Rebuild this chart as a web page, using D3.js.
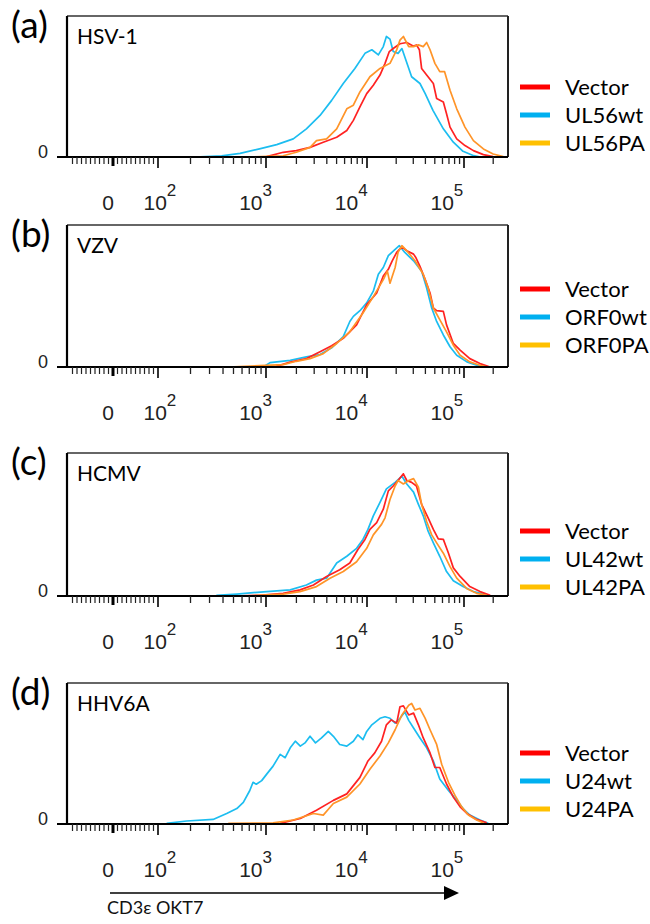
<!DOCTYPE html>
<html lang="en">
<head>
<meta charset="utf-8">
<script src="https://cdn.jsdelivr.net/npm/d3@7"></script>
<style>
  body { margin: 0; background: #fff; }
</style>
</head>
<body>
<div id="chart"></div>
<script>
// labels
var panelLetters = ["(a)", "(b)", "(c)", "(d)"];
var virusNames = ["HSV-1", "VZV", "HCMV", "HHV6A"];
var legendNames = [
  ["Vector", "UL56wt", "UL56PA"],
  ["Vector", "ORF0wt", "ORF0PA"],
  ["Vector", "UL42wt", "UL42PA"],
  ["Vector", "U24wt", "U24PA"]
];
var decadeTicks = [2, 3, 4, 5];
var decadeLabels = ["2", "3", "4", "5"];
var axisTitle = "CD3\u03b5 OKT7";

// histograms: [log10 fluorescence, % of mode]
var hsvVector = [[2.69,0],[3.007,0.3],[3.17,3.9],[3.30,5.3],[3.436,8],[3.567,12.3],[3.70,16.4],[3.80,22],[3.865,30.4],[3.93,41.5],[3.997,52.6],[4.065,59.6],[4.134,68],[4.186,77.7],[4.23,87.5],[4.27,90],[4.34,94],[4.41,95],[4.48,92],[4.51,93],[4.54,89],[4.563,73.5],[4.615,68],[4.684,61],[4.718,48.5],[4.787,45.7],[4.82,35.9],[4.856,24.8],[4.925,15],[5.01,9.5],[5.097,5.3],[5.2,2],[5.3,0.3]];
var hsvWt = [[2.34,0],[2.59,1],[2.76,3],[2.94,6.7],[3.106,10.3],[3.27,15],[3.40,23.4],[3.535,34.5],[3.65,47],[3.765,61],[3.88,73.5],[3.98,86],[4.05,89],[4.117,84.7],[4.168,91.6],[4.20,100],[4.237,97.8],[4.27,87.5],[4.32,86],[4.36,90],[4.39,83],[4.46,66.6],[4.546,61],[4.6,52.6],[4.68,38.7],[4.787,23.4],[4.89,12.3],[4.99,4.7],[5.10,1.1],[5.17,0]];
var hsvPA = [[2.88,0],[3.17,1],[3.30,3.9],[3.436,8],[3.50,13.6],[3.60,15],[3.70,23.4],[3.80,40],[3.865,43],[3.93,54],[4.03,66.6],[4.134,73.5],[4.237,77.7],[4.306,88.9],[4.34,97],[4.375,100],[4.43,91.6],[4.48,91.6],[4.53,93],[4.58,91.6],[4.615,95],[4.65,89],[4.70,77.7],[4.75,70.8],[4.80,70.8],[4.856,55.4],[4.925,40],[5.01,24.8],[5.097,13.6],[5.2,6.7],[5.30,2.5],[5.405,0.3]];

var vzvVector = [[2.94,0],[3.10,0.5],[3.24,4],[3.40,6.9],[3.535,12.5],[3.65,17.5],[3.765,23.6],[3.897,34.7],[3.997,51.4],[4.10,61],[4.168,75],[4.22,80.5],[4.26,87.5],[4.306,94.4],[4.36,99],[4.41,95.8],[4.48,93],[4.505,90],[4.546,83],[4.6,72],[4.65,61],[4.684,48.6],[4.718,46.4],[4.787,45.8],[4.82,34.7],[4.89,19.4],[4.96,13.9],[5.06,6.9],[5.165,2.8],[5.27,0]];
var vzvWt = [[2.975,0],[3.04,3.6],[3.24,5.5],[3.40,8.3],[3.535,10.3],[3.65,15.8],[3.765,25],[3.83,37.5],[3.865,41.7],[3.93,46.4],[3.997,52.8],[4.065,62.5],[4.117,76.4],[4.168,82],[4.22,91.7],[4.29,97],[4.333,100],[4.39,94.4],[4.48,87.5],[4.563,79],[4.615,65],[4.667,48.6],[4.718,37.5],[4.787,26.4],[4.856,16.7],[4.925,9.7],[5.03,4.2],[5.13,1.4],[5.27,0]];
var vzvPA = [[2.65,0],[3.17,1.9],[3.30,4.7],[3.436,6.9],[3.567,11],[3.70,19.4],[3.83,29],[3.96,44.4],[4.065,58],[4.168,72],[4.21,79],[4.237,69],[4.29,82],[4.32,94.4],[4.36,100],[4.41,95.8],[4.495,87.5],[4.58,76.4],[4.63,65],[4.684,48.6],[4.75,39],[4.82,29],[4.89,18],[4.96,9.7],[5.06,4.2],[5.165,1.4],[5.235,0]];

var hcmvVector = [[2.71,0],[2.94,0.6],[3.17,2.2],[3.337,5],[3.47,9],[3.60,16],[3.73,21.5],[3.83,27],[3.91,38],[3.98,46.3],[4.03,54.5],[4.10,60],[4.168,71],[4.22,86],[4.27,90],[4.32,94.5],[4.375,100],[4.41,94.5],[4.46,93],[4.51,90],[4.563,75],[4.63,64],[4.684,54.5],[4.735,46.8],[4.787,46.3],[4.84,35],[4.89,23],[4.96,16],[5.06,7.7],[5.165,3.6],[5.27,0.5]];
var hcmvWt = [[2.54,0.5],[2.73,1.6],[3.007,3.6],[3.24,5],[3.40,9],[3.50,13],[3.60,14.6],[3.70,27],[3.80,32.5],[3.897,39],[3.96,46.3],[4.01,54.5],[4.065,65.6],[4.134,76.6],[4.2,87.6],[4.29,93],[4.36,98],[4.41,91.7],[4.48,85],[4.53,75],[4.58,65.6],[4.63,53],[4.684,43.5],[4.75,32.5],[4.82,20],[4.89,12.4],[4.99,7.7],[5.097,3.6],[5.2,1.6],[5.27,0]];
var hcmvPA = [[2.82,0],[3.17,1.6],[3.337,3.6],[3.50,7.7],[3.634,14.6],[3.765,20],[3.897,28],[3.997,39],[4.065,50],[4.15,58.6],[4.186,64],[4.237,79],[4.29,90],[4.32,94.5],[4.375,91.7],[4.43,94.5],[4.48,96],[4.53,89],[4.563,75],[4.615,61],[4.667,50],[4.718,43.5],[4.787,35],[4.856,24],[4.925,14.6],[5.03,6],[5.13,2.2],[5.235,0.5]];

var hhvVector = [[3.14,0.5],[3.34,4.6],[3.50,11.4],[3.667,19.6],[3.80,25],[3.93,38.7],[4.01,52.3],[4.08,59],[4.15,68.7],[4.2,82.3],[4.25,86.4],[4.306,83.7],[4.34,97.3],[4.375,98],[4.43,90.5],[4.48,92],[4.53,82.3],[4.58,71.4],[4.65,59],[4.70,46.9],[4.75,46.9],[4.82,33.2],[4.89,22.3],[4.96,14.2],[5.03,8.7],[5.13,3.8],[5.235,1]];
var hhvWt = [[2.08,0.5],[2.265,2.5],[2.51,3.8],[2.636,8.7],[2.73,12.8],[2.79,18],[2.85,27.8],[2.88,34.6],[2.91,33],[2.96,36],[3.007,41.4],[3.07,48],[3.14,57.8],[3.19,55],[3.24,63.2],[3.29,68.7],[3.34,64.6],[3.386,67.3],[3.436,72.8],[3.49,67.3],[3.55,71.4],[3.617,76.8],[3.667,72.8],[3.73,66],[3.80,64.6],[3.865,68.7],[3.91,74],[3.96,70],[3.997,76.8],[4.05,82.3],[4.134,87.7],[4.186,89],[4.237,87.7],[4.29,83.7],[4.34,87.7],[4.39,93],[4.43,86],[4.48,79.6],[4.546,71.4],[4.615,63.2],[4.684,52.3],[4.75,37.3],[4.84,27.8],[4.925,19.6],[4.99,12.8],[5.06,7.4],[5.165,3.3],[5.25,0.5]];
var hhvPA = [[2.65,0.5],[3.07,1],[3.27,3.3],[3.47,8.7],[3.567,7.4],[3.667,17],[3.80,22.3],[3.93,33.2],[4.03,45.5],[4.134,56.4],[4.22,67.3],[4.29,78.2],[4.36,90.5],[4.43,98.6],[4.46,100],[4.495,94.6],[4.546,96],[4.6,87.7],[4.65,78.2],[4.718,66],[4.77,49.6],[4.84,34.6],[4.907,23.7],[4.976,14.2],[5.045,7.4],[5.13,3.3],[5.2,0.8]];

var panelSeries = [
  [hsvVector, hsvWt, hsvPA],
  [vzvVector, vzvWt, vzvPA],
  [hcmvVector, hcmvWt, hcmvPA],
  [hhvVector, hhvWt, hhvPA]
];

// styling
var lineColors = ["#ff2222", "#1cbdf0", "#ff9428"];
var legendColors = ["#ff0000", "#00b0f0", "#ffc000"];
var drawOrder = [1, 0, 2];   // blue underneath

// layout
var width = 650, height = 924;
var frameLeft = 67, frameRight = 508;
var tops = [16, 225, 453, 683];
var bases = [157, 367, 596, 824];
var legendTop = [87, 289, 531, 753];
var legendStep = 28;

var svg = d3.select("#chart").append("svg")
  .attr("width", width)
  .attr("height", height)
  .style("font-family", "Lato, 'Open Sans', sans-serif");

// biexponential-ish x axis: log part and linear part around zero
var xLog = d3.scaleLinear().domain([2, 3, 4, 5]).range([158, 266, 367, 464]);
var xLin = d3.scaleLinear().domain([-100, 100]).range([xLog(2) - 90, xLog(2)]);
var labelX = d3.scaleLinear().domain([2, 5]).range([155, 442]);
var xMax = xLog.invert(frameRight);

// tick values
var linTicks = d3.range(-90, 100, 10).filter(function(v) { return v !== 0; });
var logMinor = [];
decadeTicks.forEach(function(n) {
  for (var k = 2; k <= 9; k++) {
    var v = n + Math.log10(k);
    if (v < xMax) logMinor.push(v);
  }
});

panelSeries.forEach(function(series, i) {
  var g = svg.append("g");
  var y = d3.scaleLinear().domain([0, 117]).range([bases[i], tops[i]]);

  // frame
  g.append("line").attr("x1", frameLeft).attr("x2", frameRight)
    .attr("y1", tops[i]).attr("y2", tops[i])
    .attr("stroke", "#333").attr("stroke-width", 1.5);
  g.append("line").attr("x1", frameRight).attr("x2", frameRight)
    .attr("y1", tops[i]).attr("y2", bases[i])
    .attr("stroke", "#222").attr("stroke-width", 2);
  g.append("line").attr("x1", frameLeft).attr("x2", frameLeft)
    .attr("y1", tops[i]).attr("y2", bases[i])
    .attr("stroke", "#000").attr("stroke-width", 2.2);

  // histograms
  var line = d3.line()
    .x(function(d) { return xLog(d[0]); })
    .y(function(d) { return y(d[1]); });
  drawOrder.forEach(function(j) {
    g.append("path")
      .datum(series[j])
      .attr("d", line)
      .attr("fill", "none")
      .attr("stroke", lineColors[j])
      .attr("stroke-width", 1.7)
      .attr("stroke-linejoin", "round");
  });

  // bottom axis
  var base = bases[i];
  g.append("line").attr("x1", frameLeft - 10).attr("x2", frameRight)
    .attr("y1", base).attr("y2", base)
    .attr("stroke", "#000").attr("stroke-width", 2);

  g.selectAll(".lt").data(linTicks).enter().append("line")
    .attr("x1", function(d) { return xLin(d); })
    .attr("x2", function(d) { return xLin(d); })
    .attr("y1", base).attr("y2", base + 7)
    .attr("stroke", "#222").attr("stroke-width", 1.2);
  g.append("line")
    .attr("x1", xLin(0)).attr("x2", xLin(0))
    .attr("y1", base).attr("y2", base + 9)
    .attr("stroke", "#000").attr("stroke-width", 3);
  g.selectAll(".mt").data(logMinor).enter().append("line")
    .attr("x1", function(d) { return xLog(d); })
    .attr("x2", function(d) { return xLog(d); })
    .attr("y1", base).attr("y2", base + 7)
    .attr("stroke", "#222").attr("stroke-width", 1.3);
  g.selectAll(".Mt").data(decadeTicks).enter().append("line")
    .attr("x1", function(d) { return xLog(d); })
    .attr("x2", function(d) { return xLog(d); })
    .attr("y1", base).attr("y2", base + 11)
    .attr("stroke", "#000").attr("stroke-width", 1.6);

  // tick labels
  var lab = g.append("g")
    .style("font-family", "'Liberation Sans', Arial, sans-serif")
    .attr("fill", "#222");
  lab.append("text")
    .attr("x", xLin(0) - 5).attr("y", base + 53)
    .attr("text-anchor", "middle")
    .style("font-size", "21px")
    .text("0");
  decadeTicks.forEach(function(d, k) {
    var t = lab.append("text")
      .attr("x", labelX(d) - 11.5).attr("y", base + 53)
      .style("font-size", "21px");
    t.append("tspan").text("10");
    t.append("tspan").attr("dy", -14).style("font-size", "17px").text(decadeLabels[k]);
  });
  lab.append("text")
    .attr("x", 43).attr("y", base + 1)
    .attr("text-anchor", "middle")
    .style("font-size", "18px")
    .text("0");

  // panel letter and virus name
  g.append("text").attr("x", 11).attr("y", tops[i] + 22)
    .style("font-size", "37px").attr("fill", "#000")
    .text(panelLetters[i]);
  g.append("text").attr("x", 77).attr("y", tops[i] + 28)
    .style("font-size", "21px").attr("fill", "#000")
    .text(virusNames[i]);

  // legend
  legendNames[i].forEach(function(name, j) {
    var ly = legendTop[i] + j * legendStep;
    g.append("line").attr("x1", 520).attr("x2", 550)
      .attr("y1", ly).attr("y2", ly)
      .attr("stroke", legendColors[j]).attr("stroke-width", 5);
    g.append("text").attr("x", 565).attr("y", ly + 8)
      .style("font-size", "22px").attr("fill", "#000")
      .text(name);
  });
});

// axis arrow and title
var arrowY = 893;
svg.append("line").attr("x1", 110).attr("x2", 447)
  .attr("y1", arrowY).attr("y2", arrowY)
  .attr("stroke", "#000").attr("stroke-width", 1.5);
svg.append("path")
  .attr("d", d3.line()([[444, arrowY - 7], [459, arrowY], [444, arrowY + 7]]) + "Z")
  .attr("fill", "#000");
svg.append("text").attr("x", 107).attr("y", 914)
  .style("font-size", "18px").attr("fill", "#111")
  .text(axisTitle);
</script>
</body>
</html>
